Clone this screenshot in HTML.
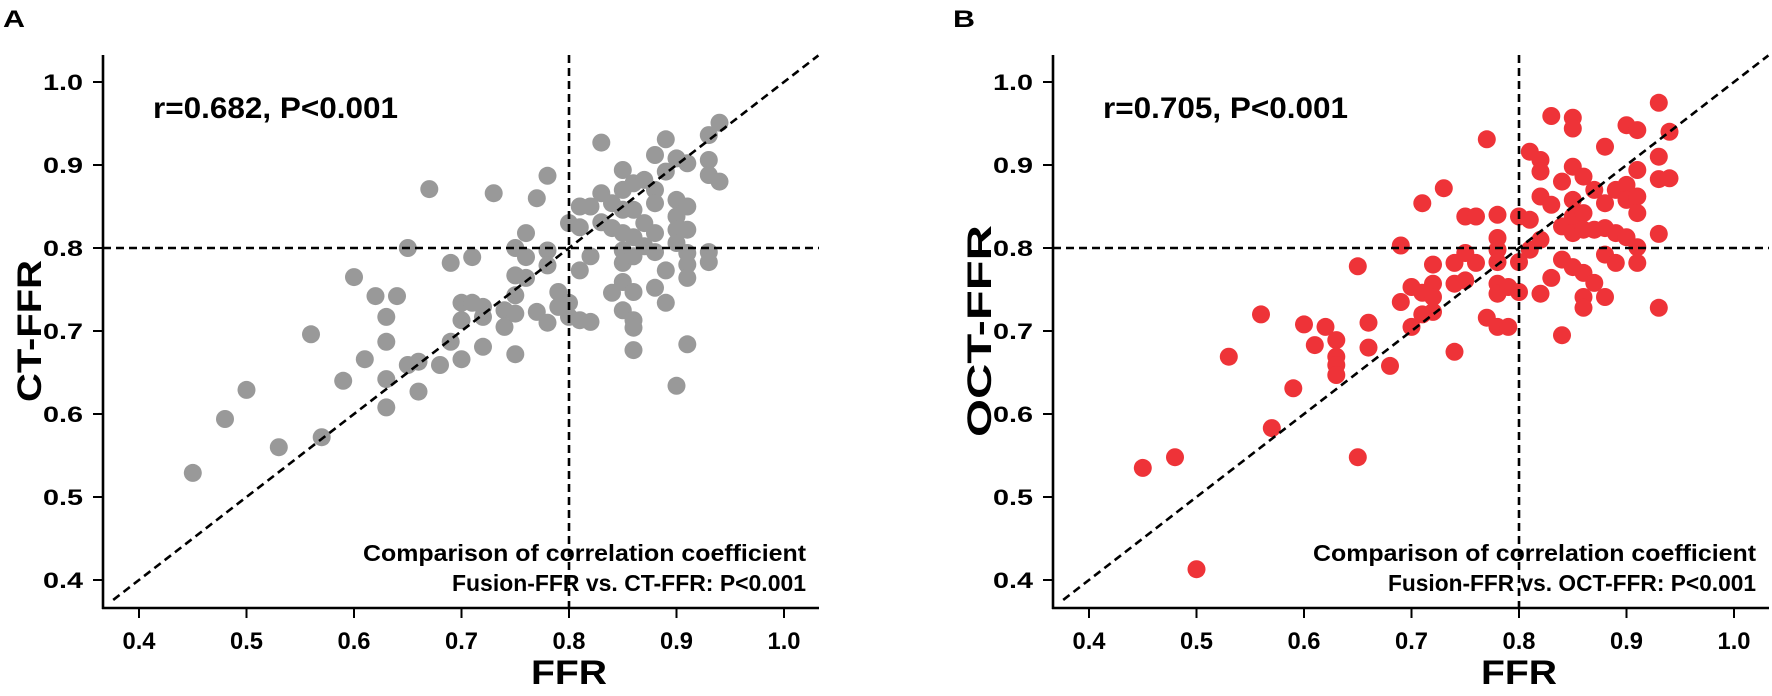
<!DOCTYPE html>
<html><head><meta charset="utf-8"><style>
html,body{margin:0;padding:0;background:#fff;}
svg{display:block;font-family:"Liberation Sans",Arial,sans-serif;}
</style></head><body>
<svg id="chart" width="1772" height="696" viewBox="0 0 1772 696"></svg>
<script>
// Panel A data: FFR vs CT-FFR
const ptsA = [
[0.45,0.529],[0.48,0.594],[0.50,0.629],[0.53,0.560],[0.57,0.572],[0.56,0.696],[0.59,0.640],[0.60,0.765],[0.61,0.666],[0.62,0.742],
[0.64,0.742],[0.63,0.717],[0.63,0.687],[0.63,0.642],[0.63,0.608],[0.65,0.800],[0.65,0.659],[0.66,0.663],[0.66,0.627],[0.67,0.871],
[0.68,0.659],[0.69,0.782],[0.69,0.687],[0.70,0.666],[0.70,0.734],[0.70,0.713],[0.71,0.789],[0.71,0.734],[0.72,0.729],[0.72,0.717],
[0.72,0.681],[0.73,0.866],[0.74,0.725],[0.74,0.705],[0.75,0.672],[0.75,0.721],[0.75,0.743],[0.75,0.767],[0.75,0.800],[0.76,0.789],
[0.76,0.764],[0.76,0.818],[0.77,0.860],[0.77,0.723],[0.78,0.887],[0.78,0.797],[0.78,0.779],[0.79,0.747],[0.78,0.710],[0.79,0.729],
[0.80,0.830],[0.80,0.734],[0.80,0.717],[0.81,0.850],[0.81,0.825],[0.81,0.773],[0.81,0.713],[0.82,0.850],[0.82,0.790],[0.82,0.711],
[0.83,0.927],[0.83,0.866],[0.83,0.831],[0.84,0.746],[0.84,0.824],[0.84,0.854],[0.85,0.894],[0.85,0.870],[0.85,0.846],[0.85,0.818],
[0.85,0.797],[0.85,0.782],[0.85,0.759],[0.85,0.725],[0.86,0.878],[0.86,0.846],[0.86,0.813],[0.86,0.790],[0.86,0.747],[0.86,0.713],
[0.86,0.704],[0.86,0.677],[0.87,0.882],[0.87,0.830],[0.87,0.802],[0.88,0.870],[0.88,0.854],[0.88,0.818],[0.88,0.795],[0.88,0.912],
[0.88,0.752],[0.89,0.931],[0.89,0.773],[0.89,0.734],[0.89,0.892],[0.90,0.908],[0.90,0.858],[0.90,0.838],[0.90,0.822],[0.90,0.806],
[0.90,0.634],[0.91,0.902],[0.91,0.850],[0.91,0.822],[0.91,0.794],[0.91,0.780],[0.91,0.764],[0.91,0.684],[0.93,0.936],[0.93,0.906],
[0.93,0.888],[0.93,0.795],[0.93,0.783],[0.94,0.951],[0.94,0.880]
];
// Panel B data: FFR vs OCT-FFR
const ptsB = [
[0.45,0.535],[0.48,0.548],[0.50,0.413],[0.53,0.669],[0.56,0.720],[0.57,0.583],[0.59,0.631],[0.60,0.708],[0.61,0.683],[0.62,0.705],
[0.63,0.689],[0.63,0.669],[0.63,0.659],[0.63,0.647],[0.65,0.778],[0.65,0.548],[0.66,0.710],[0.66,0.680],[0.68,0.658],[0.69,0.803],
[0.69,0.735],[0.70,0.753],[0.70,0.705],[0.71,0.746],[0.71,0.720],[0.72,0.780],[0.72,0.757],[0.72,0.741],[0.72,0.723],[0.74,0.675],
[0.74,0.782],[0.74,0.757],[0.75,0.794],[0.71,0.854],[0.73,0.872],[0.77,0.931],[0.75,0.838],[0.76,0.838],[0.78,0.840],[0.78,0.812],
[0.78,0.798],[0.78,0.783],[0.76,0.782],[0.75,0.761],[0.77,0.716],[0.78,0.757],[0.78,0.745],[0.78,0.705],[0.79,0.705],[0.79,0.753],
[0.80,0.838],[0.80,0.783],[0.80,0.747],[0.81,0.916],[0.81,0.834],[0.81,0.798],[0.82,0.906],[0.82,0.892],[0.82,0.862],[0.82,0.810],
[0.82,0.745],[0.83,0.959],[0.83,0.852],[0.83,0.764],[0.84,0.695],[0.84,0.880],[0.84,0.826],[0.84,0.786],[0.85,0.957],[0.85,0.944],
[0.85,0.898],[0.85,0.858],[0.85,0.838],[0.85,0.818],[0.85,0.777],[0.86,0.886],[0.86,0.842],[0.86,0.822],[0.86,0.770],[0.86,0.741],
[0.86,0.728],[0.87,0.870],[0.87,0.822],[0.87,0.758],[0.88,0.922],[0.88,0.854],[0.88,0.824],[0.88,0.792],[0.88,0.741],[0.89,0.818],
[0.89,0.782],[0.89,0.870],[0.90,0.948],[0.90,0.876],[0.90,0.858],[0.90,0.813],[0.91,0.942],[0.91,0.894],[0.91,0.862],[0.91,0.842],
[0.91,0.801],[0.91,0.782],[0.93,0.975],[0.93,0.910],[0.93,0.883],[0.93,0.817],[0.93,0.728],[0.94,0.940],[0.94,0.884]
];
const tickValues = [0.4,0.5,0.6,0.7,0.8,0.9,1.0];
const tickLabels = ["0.4","0.5","0.6","0.7","0.8","0.9","1.0"];
const panelLabels = ["A","B"];
const yTitles = ["CT-FFR","OCT-FFR"];
const rTexts = ["r=0.682, P<0.001","r=0.705, P<0.001"];
const cmpLine2 = ["Fusion-FFR vs. CT-FFR: P<0.001","Fusion-FFR vs. OCT-FFR: P<0.001"];
const cutoff = 0.8;

const NS = "http://www.w3.org/2000/svg";
const svg = document.getElementById("chart");
function mk(tag, attrs, parent, text){
  const e = document.createElementNS(NS, tag);
  for (const k in attrs) e.setAttribute(k, attrs[k]);
  if (text !== undefined) e.textContent = text;
  (parent||svg).appendChild(e);
  return e;
}
function panel(idx, pts, color, offX){
  const axX = 103 + offX, axY = 608;
  const xs = v => 139 + offX + (v - 0.4) * 1075;
  const ys = v => 580 - (v - 0.4) * 830;
  const g = mk("g", {});
  
  
  const pl = mk("text", {x: 3 + offX, y: 27, "font-size": 24, "font-weight": 900, textLength: 22, lengthAdjust: "spacingAndGlyphs"}, g, panelLabels[idx]);
  
  
  const pg = mk("g", {fill: color}, g);
  
  
  pts.forEach(p => {
    const c = mk("circle", {cx: xs(p[0]).toFixed(1), cy: ys(p[1]).toFixed(1), r: 9}, pg);
    
    
  });
  const dash = {stroke: "#000", "stroke-width": 2.6, "stroke-dasharray": "8,5", fill: "none"};
  const hl = mk("line", Object.assign({x1: axX, x2: 819 + offX, y1: ys(cutoff), y2: ys(cutoff)}, dash), g);
  
  
  const vl = mk("line", Object.assign({x1: xs(cutoff), x2: xs(cutoff), y1: 55, y2: axY}, dash), g);
  
  
  const dl = mk("line", Object.assign({x1: xs(0.376), y1: ys(0.376), x2: xs(1.032), y2: ys(1.032)}, dash), g);
  
  
  const ya = mk("line", {x1: axX, x2: axX, y1: 55, y2: axY + 1, stroke: "#000", "stroke-width": 2.6}, g);
  
  
  const xa = mk("line", {x1: axX - 1, x2: 819 + offX, y1: axY, y2: axY, stroke: "#000", "stroke-width": 2.6}, g);
  
  
  tickValues.forEach((v, i) => {
    const t1 = mk("line", {x1: xs(v), x2: xs(v), y1: axY, y2: axY + 10, stroke: "#000", "stroke-width": 2}, g);
    
    
    const l1 = mk("text", {x: xs(v), y: 649, "font-size": 24, "font-weight": "bold", "text-anchor": "middle", textLength: 33, lengthAdjust: "spacingAndGlyphs"}, g, tickLabels[i]);
    
    
    const t2 = mk("line", {x1: axX - 10, x2: axX, y1: ys(v), y2: ys(v), stroke: "#000", "stroke-width": 2}, g);
    
    
    const l2 = mk("text", {x: axX - 60, y: ys(v) + 8, "font-size": 22, "font-weight": 900, textLength: 40, lengthAdjust: "spacingAndGlyphs"}, g, tickLabels[i]);
    
    
  });
  const xt = mk("text", {x: xs(cutoff), y: 684, "font-size": 34, "font-weight": "bold", "text-anchor": "middle", textLength: 76, lengthAdjust: "spacingAndGlyphs"}, g, "FFR");
  
  
  const yt = mk("text", {x: 0, y: 0, "font-size": 34, "font-weight": "bold", "text-anchor": "middle", textLength: idx ? 212 : 142, lengthAdjust: "spacingAndGlyphs", transform: "translate(" + (41 + offX) + ",331) rotate(-90)"}, g, yTitles[idx]);
  
  
  const rt = mk("text", {x: 153 + offX, y: 118, "font-size": 30, "font-weight": "bold", textLength: 245, lengthAdjust: "spacingAndGlyphs"}, g, rTexts[idx]);
  
  
  const c1 = mk("text", {x: 806 + offX, y: 561, "font-size": 23, "font-weight": "bold", "text-anchor": "end", textLength: 443, lengthAdjust: "spacingAndGlyphs"}, g, "Comparison of correlation coefficient");
  
  
  const c2 = mk("text", {x: 806 + offX, y: 591, "font-size": 23, "font-weight": "bold", "text-anchor": "end", textLength: idx ? 368 : 354, lengthAdjust: "spacingAndGlyphs"}, g, cmpLine2[idx]);
  
  
}
panel(0, ptsA, "#999999", 0);
panel(1, ptsB, "#ee3338", 950);
</script>
</body></html>
